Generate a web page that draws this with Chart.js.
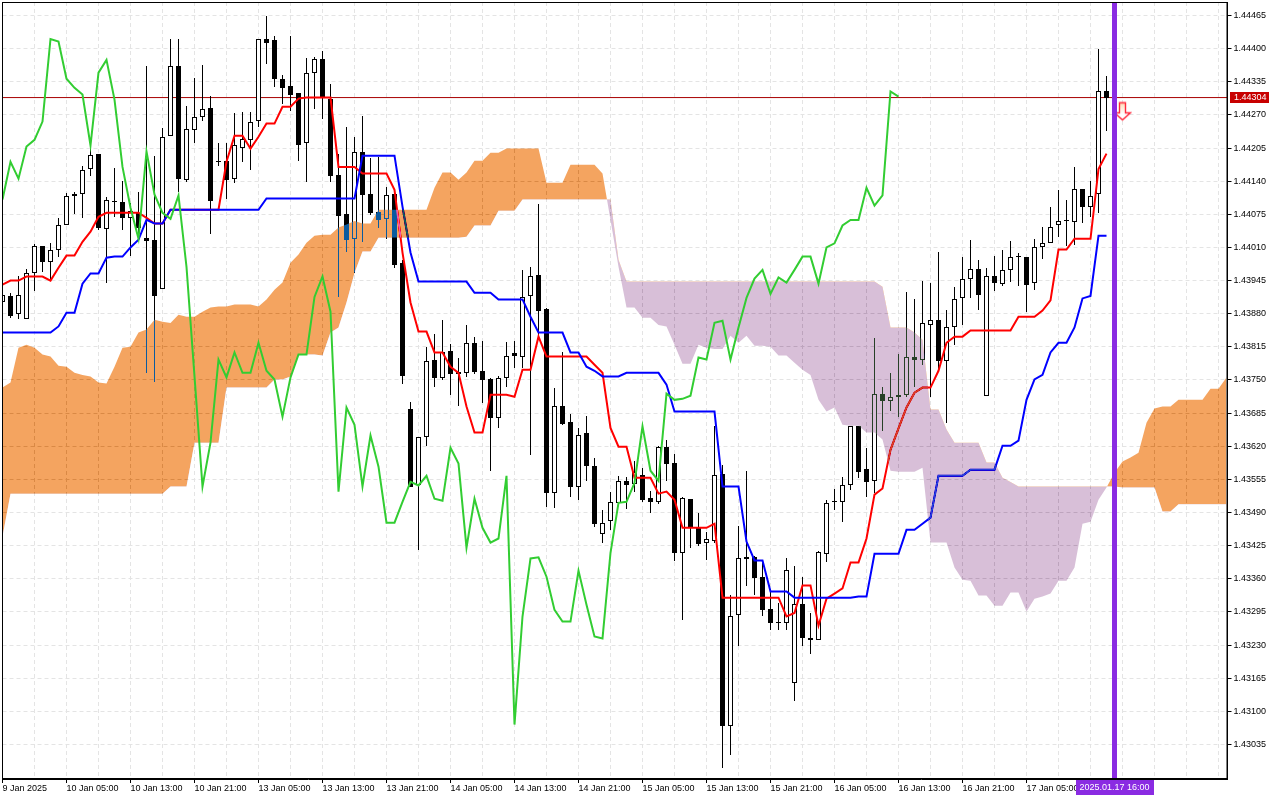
<!DOCTYPE html>
<html>
<head>
<meta charset="utf-8">
<title>Ichimoku H1</title>
<script src="https://cdn.jsdelivr.net/npm/chart.js@4/dist/chart.umd.js"></script>
<style>
  html, body { margin: 0; padding: 0; background: #fff; }
  canvas { display: block; }
</style>
</head>
<body>
<canvas id="chart" width="1280" height="800"></canvas>
<script>
const xLabels = ["9 Jan 2025", "10 Jan 05:00", "10 Jan 13:00", "10 Jan 21:00", "13 Jan 05:00", "13 Jan 13:00", "13 Jan 21:00", "14 Jan 05:00", "14 Jan 13:00", "14 Jan 21:00", "15 Jan 05:00", "15 Jan 13:00", "15 Jan 21:00", "16 Jan 05:00", "16 Jan 13:00", "16 Jan 21:00", "17 Jan 05:00", "17 Jan 13:00"];
const yTicks = [1.43035, 1.431, 1.43165, 1.4323, 1.43295, 1.4336, 1.43425, 1.4349, 1.43555, 1.4362, 1.43685, 1.4375, 1.43815, 1.4388, 1.43945, 1.4401, 1.44075, 1.4414, 1.44205, 1.4427, 1.44335, 1.444, 1.44465];

const opens = [1.43902,1.43915,1.43880,1.43870,1.43959,1.44012,1.43982,1.44004,1.44055,1.44110,
  1.44115,1.44163,1.44194,1.44047,1.44102,1.44100,1.44068,1.44078,1.44029,1.44025,
  1.43929,1.44229,1.44365,1.44143,1.44241,1.44265,1.44284,1.44180,1.44180,1.44145,
  1.44206,1.44221,1.44259,1.44419,1.44416,1.44341,1.44327,1.44312,1.44214,1.44353,
  1.44380,1.44302,1.44153,1.44076,1.44027,1.44198,1.44114,1.44080,1.44066,1.44115,
  1.43980,1.43694,1.43543,1.43639,1.43790,1.43753,1.43806,1.43766,1.43764,1.43823,
  1.43768,1.43751,1.43676,1.43753,1.43802,1.43796,1.43915,1.43955,1.43890,1.43529,
  1.43698,1.43668,1.43541,1.43645,1.43582,1.43447,1.43474,1.43509,1.43552,1.43545,
  1.43564,1.43519,1.43511,1.43619,1.43588,1.43411,1.43517,1.43460,1.43431,1.43435,
  1.43566,1.43072,1.43288,1.43398,1.43403,1.43364,1.43301,1.43276,1.43274,1.43156,
  1.43311,1.43243,1.43239,1.43409,1.43513,1.43511,1.43543,1.43660,1.43576,1.43552,
  1.43723,1.43709,1.43717,1.43721,1.43796,1.43790,1.43858,1.43868,1.43788,1.43853,
  1.43910,1.43949,1.43968,1.43719,1.43953,1.43939,1.43966,1.43994,1.43992,1.43941,
  1.44010,1.44018,1.44055,1.44062,1.44060,1.44125,1.44090,1.44114,1.44316];
const closes = [1.43917,1.43876,1.43917,1.43959,1.44012,1.43982,1.44004,1.44055,1.44110,1.44115,
  1.44161,1.44192,1.44049,1.44104,1.44100,1.44068,1.44082,1.44049,1.44023,1.43915,
  1.44227,1.44365,1.44145,1.44243,1.44265,1.44282,1.44102,1.44178,1.44143,1.44210,
  1.44223,1.44257,1.44419,1.44412,1.44341,1.44323,1.44310,1.44210,1.44353,1.44380,
  1.44304,1.44151,1.44072,1.44025,1.44198,1.44112,1.44078,1.44064,1.44112,1.43976,
  1.43758,1.43541,1.43639,1.43788,1.43753,1.43804,1.43762,1.43762,1.43823,1.43766,
  1.43749,1.43676,1.43753,1.43798,1.43798,1.43913,1.43953,1.43886,1.43529,1.43698,
  1.43664,1.43541,1.43643,1.43582,1.43468,1.43470,1.43511,1.43552,1.43543,1.43570,
  1.43515,1.43511,1.43619,1.43586,1.43411,1.43519,1.43460,1.43429,1.43439,1.43564,
  1.43072,1.43286,1.43400,1.43403,1.43362,1.43299,1.43274,1.43274,1.43378,1.43311,
  1.43243,1.43239,1.43413,1.43509,1.43511,1.43543,1.43660,1.43570,1.43550,1.43723,
  1.43709,1.43717,1.43721,1.43796,1.43790,1.43862,1.43868,1.43788,1.43853,1.43908,
  1.43949,1.43968,1.43917,1.43953,1.43941,1.43966,1.43992,1.43992,1.43937,1.44010,
  1.44018,1.44051,1.44062,1.44064,1.44125,1.44090,1.44110,1.44316,1.44304];
const highs = [1.43921,1.43921,1.43953,1.43968,1.44016,1.44012,1.44019,1.44068,1.44117,1.44119,
  1.44170,1.44210,1.44194,1.44108,1.44166,1.44141,1.44098,1.44119,1.44365,1.44190,
  1.44245,1.44419,1.44419,1.44288,1.44343,1.44367,1.44308,1.44215,1.44214,1.44274,
  1.44276,1.44276,1.44419,1.44465,1.44425,1.44349,1.44425,1.44312,1.44382,1.44384,
  1.44396,1.44331,1.44194,1.44247,1.44227,1.44267,1.44186,1.44188,1.44129,1.44123,
  1.43986,1.43707,1.43639,1.43815,1.43841,1.43868,1.43821,1.43794,1.43857,1.43835,
  1.43827,1.43753,1.43757,1.43825,1.43827,1.43966,1.43972,1.44096,1.43892,1.43735,
  1.43804,1.43684,1.43655,1.43680,1.43596,1.43494,1.43531,1.43562,1.43560,1.43592,
  1.43578,1.43533,1.43621,1.43633,1.43604,1.43521,1.43517,1.43490,1.43451,1.43659,
  1.43584,1.43329,1.43464,1.43572,1.43405,1.43392,1.43340,1.43313,1.43400,1.43386,
  1.43364,1.43293,1.43415,1.43515,1.43537,1.43560,1.43660,1.43660,1.43617,1.43833,
  1.43737,1.43764,1.43800,1.43923,1.43908,1.43945,1.43941,1.44002,1.43888,1.43933,
  1.43992,1.44025,1.43986,1.43970,1.43994,1.44004,1.44023,1.44000,1.43992,1.44027,
  1.44051,1.44090,1.44123,1.44104,1.44168,1.44125,1.44141,1.44400,1.44347];
const lows = [1.43872,1.43872,1.43870,1.43870,1.43925,1.43962,1.43945,1.43992,1.44055,1.44076,
  1.44068,1.44151,1.44045,1.43941,1.44070,1.44045,1.43994,1.44025,1.43764,1.43747,
  1.43929,1.44229,1.44119,1.44139,1.44214,1.44259,1.44037,1.44170,1.44106,1.44137,
  1.44178,1.44161,1.44247,1.44369,1.44325,1.44292,1.44278,1.44180,1.44139,1.44282,
  1.44261,1.44139,1.43913,1.44002,1.43960,1.44021,1.44074,1.44049,1.44027,1.43970,
  1.43743,1.43541,1.43417,1.43621,1.43737,1.43749,1.43721,1.43698,1.43755,1.43762,
  1.43705,1.43572,1.43656,1.43736,1.43774,1.43774,1.43602,1.43833,1.43500,1.43498,
  1.43662,1.43521,1.43515,1.43552,1.43462,1.43431,1.43455,1.43509,1.43496,1.43531,
  1.43511,1.43490,1.43507,1.43552,1.43394,1.43280,1.43421,1.43425,1.43396,1.43431,
  1.42988,1.43015,1.43229,1.43345,1.43329,1.43286,1.43260,1.43260,1.43260,1.43121,
  1.43229,1.43213,1.43239,1.43392,1.43494,1.43472,1.43535,1.43558,1.43521,1.43529,
  1.43649,1.43690,1.43678,1.43717,1.43736,1.43780,1.43717,1.43770,1.43666,1.43819,
  1.43858,1.43910,1.43888,1.43719,1.43925,1.43935,1.43943,1.43935,1.43884,1.43927,
  1.43988,1.44018,1.44031,1.44012,1.44014,1.44057,1.44070,1.44078,1.44239];

const tenkan = [1.43937,1.43945,1.43945,1.43953,1.43953,1.43953,1.43945,1.43970,1.43994,1.43994,
  1.44021,1.44041,1.44070,1.44078,1.44078,1.44078,1.44078,1.44078,1.44068,1.44057,
  1.44057,1.44084,1.44084,1.44084,1.44084,1.44084,1.44084,1.44084,1.44178,1.44229,
  1.44229,1.44204,1.44227,1.44253,1.44253,1.44286,1.44286,1.44302,1.44304,1.44304,
  1.44304,1.44304,1.44168,1.44168,1.44168,1.44155,1.44155,1.44155,1.44155,1.44123,
  1.44000,1.43902,1.43845,1.43845,1.43804,1.43804,1.43776,1.43764,1.43698,1.43647,
  1.43647,1.43721,1.43721,1.43721,1.43717,1.43770,1.43770,1.43835,1.43796,1.43796,
  1.43796,1.43796,1.43796,1.43796,1.43780,1.43764,1.43656,1.43619,1.43619,1.43558,
  1.43558,1.43558,1.43527,1.43531,1.43515,1.43460,1.43460,1.43460,1.43460,1.43468,
  1.43323,1.43323,1.43323,1.43323,1.43323,1.43323,1.43323,1.43323,1.43286,1.43293,
  1.43347,1.43347,1.43268,1.43321,1.43331,1.43341,1.43392,1.43392,1.43439,1.43525,
  1.43537,1.43613,1.43655,1.43696,1.43725,1.43735,1.43735,1.43768,1.43823,1.43835,
  1.43835,1.43847,1.43847,1.43847,1.43847,1.43847,1.43847,1.43874,1.43874,1.43874,
  1.43886,1.43906,1.44006,1.44006,1.44027,1.44027,1.44027,1.44164,1.44194];
const kijun = [1.43843,1.43843,1.43843,1.43843,1.43843,1.43843,1.43843,1.43855,1.43882,1.43882,
  1.43939,1.43959,1.43959,1.43990,1.43992,1.43992,1.44010,1.44025,1.44064,1.44057,
  1.44057,1.44084,1.44084,1.44084,1.44084,1.44084,1.44084,1.44084,1.44084,1.44084,
  1.44084,1.44084,1.44084,1.44106,1.44106,1.44106,1.44106,1.44106,1.44106,1.44106,
  1.44106,1.44106,1.44106,1.44106,1.44106,1.44190,1.44190,1.44190,1.44190,1.44190,
  1.44090,1.44000,1.43943,1.43943,1.43943,1.43943,1.43943,1.43943,1.43943,1.43921,
  1.43921,1.43921,1.43908,1.43908,1.43908,1.43908,1.43874,1.43843,1.43843,1.43843,
  1.43843,1.43804,1.43804,1.43776,1.43768,1.43757,1.43757,1.43757,1.43764,1.43764,
  1.43764,1.43764,1.43764,1.43741,1.43688,1.43688,1.43688,1.43688,1.43688,1.43688,
  1.43541,1.43541,1.43541,1.43433,1.43396,1.43396,1.43335,1.43335,1.43335,1.43323,
  1.43323,1.43323,1.43323,1.43323,1.43323,1.43323,1.43323,1.43325,1.43325,1.43409,
  1.43409,1.43409,1.43409,1.43456,1.43456,1.43468,1.43480,1.43562,1.43562,1.43562,
  1.43562,1.43574,1.43574,1.43574,1.43574,1.43621,1.43621,1.43631,1.43711,1.43751,
  1.43760,1.43804,1.43823,1.43823,1.43853,1.43910,1.43915,1.44033,1.44033];
const chikou = [1.44104,1.44178,1.44145,1.44208,1.44221,1.44257,1.44419,1.44414,1.44341,1.44323,
  1.44310,1.44210,1.44353,1.44378,1.44300,1.44168,1.44088,1.44027,1.44198,1.44114,
  1.44078,1.44066,1.44112,1.43972,1.43757,1.43541,1.43627,1.43790,1.43755,1.43804,
  1.43764,1.43764,1.43823,1.43768,1.43751,1.43678,1.43755,1.43800,1.43800,1.43913,
  1.43953,1.43884,1.43531,1.43696,1.43662,1.43541,1.43641,1.43580,1.43470,1.43470,
  1.43511,1.43550,1.43543,1.43562,1.43517,1.43513,1.43617,1.43586,1.43421,1.43517,
  1.43460,1.43431,1.43439,1.43562,1.43074,1.43286,1.43400,1.43402,1.43364,1.43299,
  1.43276,1.43276,1.43376,1.43309,1.43247,1.43243,1.43411,1.43509,1.43511,1.43548,
  1.43659,1.43572,1.43552,1.43723,1.43711,1.43713,1.43719,1.43794,1.43790,1.43862,
  1.43866,1.43790,1.43853,1.43911,1.43949,1.43966,1.43919,1.43951,1.43941,1.43966,
  1.43992,1.43992,1.43939,1.44010,1.44018,1.44053,1.44064,1.44064,1.44127,1.44092,
  1.44112,1.44316,1.44306];
const senkouA = [1.43735,1.43745,1.43813,1.43819,1.43813,1.43800,1.43796,1.43778,1.43776,1.43764,
  1.43760,1.43757,1.43745,1.43743,1.43776,1.43813,1.43815,1.43843,1.43849,1.43868,
  1.43864,1.43862,1.43878,1.43874,1.43874,1.43884,1.43892,1.43894,1.43894,1.43898,
  1.43898,1.43898,1.43894,1.43908,1.43927,1.43941,1.43980,1.43996,1.44019,1.44033,
  1.44035,1.44035,1.44049,1.44055,1.44062,1.44057,1.44057,1.44084,1.44084,1.44084,
  1.44084,1.44084,1.44084,1.44084,1.44127,1.44157,1.44157,1.44143,1.44157,1.44180,
  1.44180,1.44196,1.44196,1.44204,1.44204,1.44204,1.44204,1.44204,1.44137,1.44137,
  1.44137,1.44172,1.44172,1.44172,1.44172,1.44155,1.44064,1.43972,1.43892,1.43892,
  1.43872,1.43872,1.43858,1.43855,1.43819,1.43782,1.43782,1.43819,1.43813,1.43811,
  1.43811,1.43837,1.43823,1.43837,1.43817,1.43817,1.43815,1.43798,1.43798,1.43784,
  1.43770,1.43760,1.43711,1.43688,1.43696,1.43662,1.43660,1.43660,1.43647,1.43647,
  1.43633,1.43572,1.43570,1.43570,1.43570,1.43578,1.43431,1.43431,1.43431,1.43382,
  1.43358,1.43356,1.43327,1.43327,1.43307,1.43307,1.43333,1.43333,1.43296,1.43321,
  1.43325,1.43331,1.43356,1.43356,1.43382,1.43468,1.43472,1.43515,1.43539,1.43568,
  1.43590,1.43598,1.43607,1.43666,1.43694,1.43698,1.43698,1.43711,1.43711,1.43711,
  1.43711,1.43733,1.43733,1.43755];
const senkouB = [1.43443,1.43527,1.43527,1.43527,1.43527,1.43527,1.43527,1.43527,1.43527,1.43527,
  1.43527,1.43527,1.43527,1.43527,1.43527,1.43527,1.43527,1.43527,1.43527,1.43527,
  1.43527,1.43541,1.43541,1.43541,1.43627,1.43627,1.43627,1.43627,1.43735,1.43735,
  1.43735,1.43735,1.43735,1.43735,1.43751,1.43751,1.43757,1.43800,1.43800,1.43800,
  1.43798,1.43843,1.43853,1.43902,1.43960,1.44002,1.44002,1.44029,1.44029,1.44029,
  1.44029,1.44029,1.44029,1.44029,1.44029,1.44029,1.44029,1.44029,1.44031,1.44053,
  1.44053,1.44053,1.44082,1.44082,1.44082,1.44104,1.44104,1.44104,1.44104,1.44104,
  1.44104,1.44104,1.44104,1.44104,1.44104,1.44104,1.44104,1.43986,1.43943,1.43943,
  1.43943,1.43943,1.43943,1.43943,1.43943,1.43943,1.43943,1.43943,1.43943,1.43943,
  1.43943,1.43943,1.43943,1.43943,1.43943,1.43943,1.43943,1.43943,1.43943,1.43943,
  1.43943,1.43943,1.43943,1.43943,1.43943,1.43943,1.43943,1.43943,1.43943,1.43943,
  1.43933,1.43853,1.43853,1.43853,1.43843,1.43829,1.43692,1.43692,1.43653,1.43627,
  1.43627,1.43627,1.43627,1.43588,1.43588,1.43558,1.43550,1.43541,1.43541,1.43541,
  1.43541,1.43541,1.43541,1.43541,1.43541,1.43541,1.43541,1.43541,1.43541,1.43541,
  1.43539,1.43539,1.43539,1.43539,1.43539,1.43492,1.43492,1.43506,1.43506,1.43506,
  1.43506,1.43506,1.43506,1.43506];

const bidPrice = 1.44304;
const bidLabel = "1.44304";
const signalBar = 140;
const signalPrice = 1.44276;
const cursorBar = 139;
const cursorLabel = "2025.01.17 16:00";

const yMin = 1.429672;
const yMax = 1.444915;
const xMax = 153.125;
const FONT = '"Liberation Sans", Arial, sans-serif';

const toPoints = (arr) => arr.map((v, i) => ({ x: i, y: v }));

function makeArrow() {
  const c = document.createElement("canvas");
  c.width = 19;
  c.height = 21;
  const g = c.getContext("2d");
  g.beginPath();
  g.moveTo(6.5, 1.5);
  g.lineTo(12.5, 1.5);
  g.lineTo(12.5, 11.5);
  g.lineTo(17.5, 11.5);
  g.lineTo(9.5, 18.5);
  g.lineTo(1.5, 11.5);
  g.lineTo(6.5, 11.5);
  g.closePath();
  const grad = g.createLinearGradient(0, 0, 0, 21);
  grad.addColorStop(0, "#ffd9b0");
  grad.addColorStop(0.6, "#ffffff");
  g.fillStyle = grad;
  g.fill();
  g.strokeStyle = "#ff2a3c";
  g.lineWidth = 1.4;
  g.stroke();
  return c;
}

// cloud is mixed with what is under it, like the terminal does
const cloudBlend = {
  id: "cloudBlend",
  afterDatasetDraw(chart, args) {
    const label = chart.data.datasets[args.index].label;
    if (label === "Kijun") chart.ctx.globalCompositeOperation = "difference";
    if (label === "Senkou A") chart.ctx.globalCompositeOperation = "source-over";
  },
};

// candle edges sit on whole pixels
const snapBars = {
  id: "snapBars",
  afterDatasetsUpdate(chart) {
    chart.data.datasets.forEach((ds, i) => {
      if (ds.type !== "bar") return;
      chart.getDatasetMeta(i).data.forEach((bar) => {
        bar.y = Math.round(bar.y);
        bar.base = Math.round(bar.base);
        if (bar.base === bar.y) bar.base = bar.y + 1;
      });
    });
  },
};

const pageDecor = {
  id: "pageDecor",
  beforeDraw(chart) {
    const ctx = chart.ctx;
    ctx.save();
    ctx.fillStyle = "#fff";
    ctx.fillRect(0, 0, chart.width, chart.height);
    ctx.restore();
  },
  afterDraw(chart) {
    const ctx = chart.ctx;
    const area = chart.chartArea;
    ctx.save();
    ctx.strokeStyle = "#000";
    ctx.lineWidth = 1;
    ctx.strokeRect(2.5, 2.5, area.right - 3, area.bottom - 3);

    const y = chart.scales.y.getPixelForValue(bidPrice);
    ctx.fillStyle = "#c80000";
    ctx.fillRect(1230, Math.floor(y) - 5, 39, 11);
    ctx.fillStyle = "#fff";
    ctx.font = "9px " + FONT;
    ctx.textBaseline = "middle";
    ctx.textAlign = "left";
    ctx.fillText(bidLabel, 1234, Math.floor(y) + 0.5);

    const x = chart.scales.x.getPixelForValue(cursorBar);
    ctx.fillStyle = "#8a2be2";
    ctx.fillRect(Math.round(x) - 39, 780, 78, 15);
    ctx.fillStyle = "#fff";
    ctx.textAlign = "center";
    ctx.fillText(cursorLabel, x, 788);
    ctx.restore();
  },
};

new Chart(document.getElementById("chart").getContext("2d"), {
  type: "line",
  data: {
    datasets: [
      {
        label: "Bid",
        data: [{ x: 0, y: bidPrice }, { x: xMax, y: bidPrice }],
        borderColor: "#a80000",
        borderWidth: 1,
        pointRadius: 0,
        order: 80,
      },
      {
        label: "Wicks",
        type: "bar",
        data: lows.map((v, i) => ({ x: i, y: [v, highs[i]] })),
        backgroundColor: "#000",
        borderWidth: 0,
        barThickness: 1,
        grouped: false,
        inflateAmount: 0,
        order: 70,
      },
      {
        label: "Bodies",
        type: "bar",
        data: opens.map((v, i) => ({ x: i, y: [v, closes[i]] })),
        backgroundColor: (c) => (closes[c.dataIndex] >= opens[c.dataIndex] ? "#fff" : "#000"),
        borderColor: "#000",
        borderWidth: 1,
        borderSkipped: false,
        barThickness: 5,
        grouped: false,
        inflateAmount: 0,
        order: 60,
      },
      {
        label: "Tenkan",
        data: toPoints(tenkan),
        borderColor: "#ff0000",
        borderWidth: 2,
        pointRadius: 0,
        order: 50,
      },
      {
        label: "Kijun",
        data: toPoints(kijun),
        borderColor: "#0000ff",
        borderWidth: 2,
        pointRadius: 0,
        order: 40,
      },
      {
        label: "Senkou A",
        data: toPoints(senkouA),
        borderWidth: 0,
        pointRadius: 0,
        fill: { target: "+1", above: "#0b5b9f", below: "#274027" },
        order: 30,
      },
      {
        label: "Senkou B",
        data: toPoints(senkouB),
        borderWidth: 0,
        pointRadius: 0,
        order: 35,
      },
      {
        label: "Chikou",
        data: toPoints(chikou),
        borderColor: "#32cd32",
        borderWidth: 2,
        pointRadius: 0,
        order: 20,
      },
      {
        label: "Signal",
        data: [{ x: signalBar, y: signalPrice }],
        showLine: false,
        pointStyle: makeArrow(),
        pointRadius: 10,
        order: 15,
      },
      {
        label: "Cursor",
        data: [{ x: cursorBar, y: yMin }, { x: cursorBar, y: yMax }],
        borderColor: "#8a2be2",
        borderWidth: 5,
        pointRadius: 0,
        order: 10,
      },
    ],
  },
  options: {
    responsive: false,
    animation: false,
    events: [],
    layout: { autoPadding: false, padding: { left: 2.5, top: 2, right: 0, bottom: 0 } },
    plugins: { legend: { display: false }, tooltip: { enabled: false } },
    elements: { line: { tension: 0 } },
    scales: {
      x: {
        type: "linear",
        min: 0,
        max: xMax,
        offset: false,
        afterBuildTicks(axis) {
          const t = [];
          for (let v = 0; v <= xMax; v += 4) t.push({ value: v });
          axis.ticks = t;
        },
        afterFit(axis) {
          axis.height = 21;
          axis.paddingLeft = 0;
          axis.paddingRight = 0;
        },
        grid: {
          offset: false,
          color: "#e4e4e4",
          tickLength: 4,
          tickColor: (c) => (c.tick && c.tick.value % 8 === 0 && c.tick.value / 8 < xLabels.length ? "#000" : "rgba(0,0,0,0)"),
        },
        border: { color: "#000", dash: [4, 3] },
        ticks: {
          autoSkip: false,
          maxRotation: 0,
          align: "start",
          padding: 0,
          color: "#000",
          font: { family: FONT, size: 9 },
          callback: (v) => (v % 8 === 0 && xLabels[v / 8]) || "",
        },
      },
      y: {
        position: "right",
        min: yMin,
        max: yMax,
        afterBuildTicks(axis) { axis.ticks = yTicks.map((v) => ({ value: v })); },
        afterFit(axis) {
          axis.width = 52.5;
          axis.paddingTop = 0;
          axis.paddingBottom = 0;
        },
        grid: { color: "#e4e4e4", tickLength: 4, tickColor: "#000" },
        border: { color: "#000", dash: [4, 3] },
        ticks: {
          padding: 2,
          color: "#000",
          font: { family: FONT, size: 9 },
          callback: (v) => v.toFixed(5),
        },
      },
    },
  },
  plugins: [pageDecor, cloudBlend, snapBars],
});
</script>
</body>
</html>
